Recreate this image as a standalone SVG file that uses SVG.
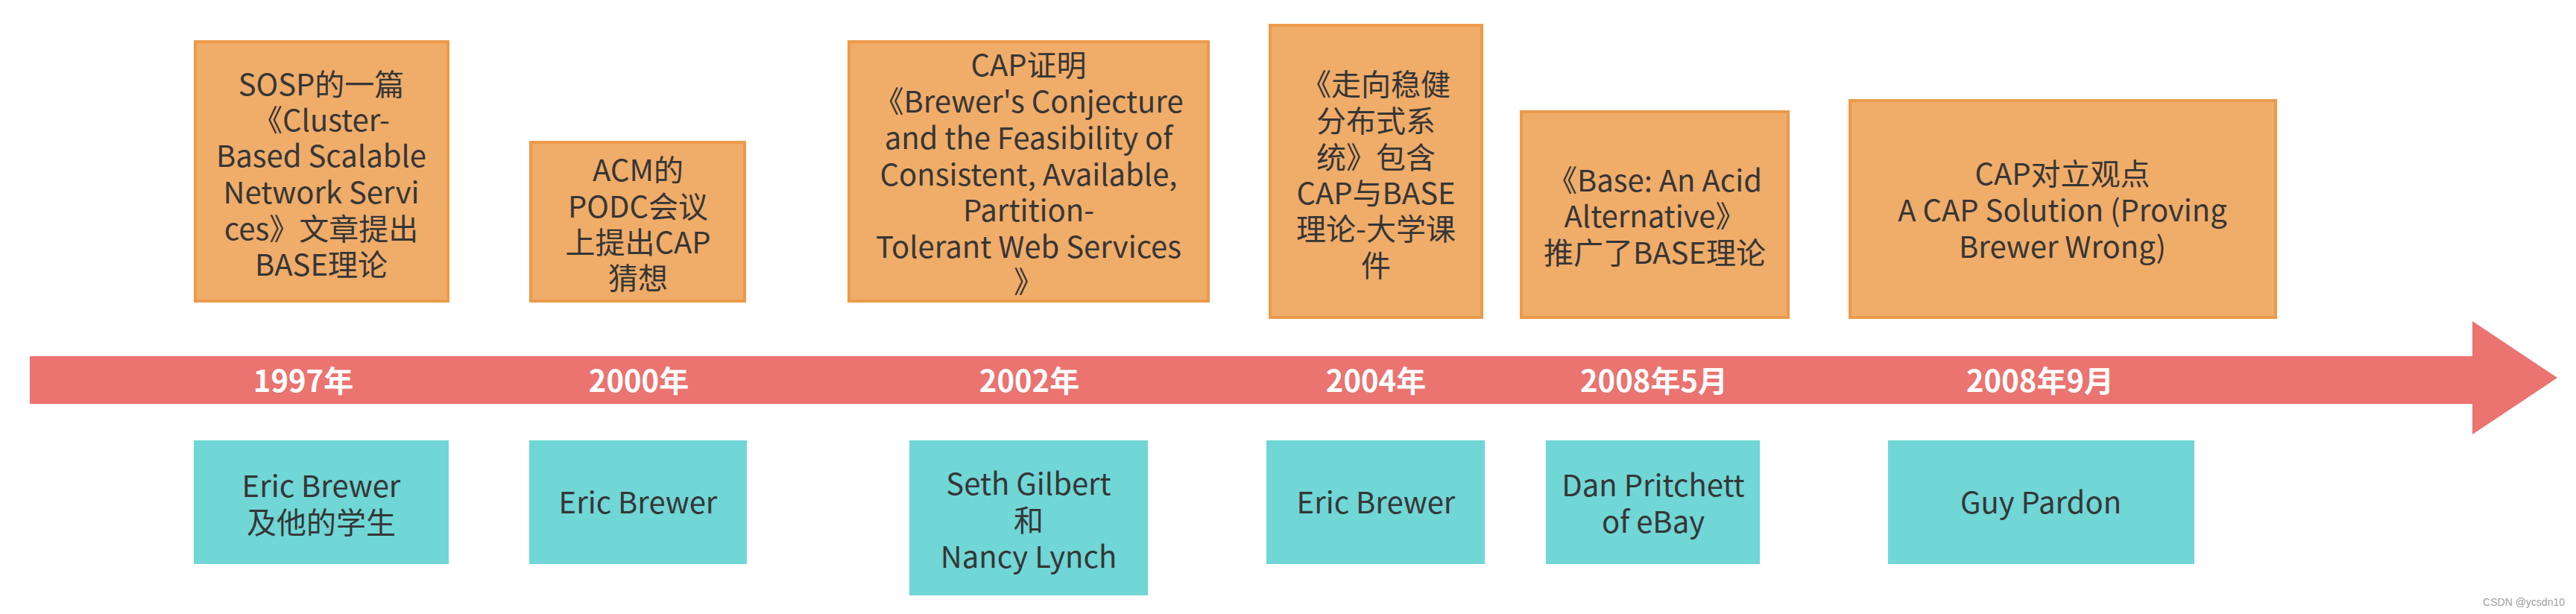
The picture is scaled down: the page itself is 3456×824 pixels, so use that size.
<svg xmlns="http://www.w3.org/2000/svg" width="3456" height="824" viewBox="0 0 3456 824">
<style>
.ev{fill:#F0AC69;stroke:#EC9A4B;stroke-width:4}
.who{fill:#70D6D6}
.t{font-family:"Noto Sans CJK SC","Noto Sans",sans-serif;font-size:40px;fill:#363636;text-anchor:middle}
.yr{font-family:"Noto Sans CJK SC","Noto Sans",sans-serif;font-size:40px;font-weight:700;fill:#FFFFFF;text-anchor:middle}
.wm{font-family:"Liberation Sans",Arial,sans-serif;font-size:14px;fill:#A0A0A0;text-anchor:end}
</style>
<rect width="3456" height="824" fill="#FFFFFF"/>
<g id="connectors">
<polygon id="timeline" points="40,478 3317,478 3317,431 3431,507 3317,583 3317,542 40,542" fill="#EB7370"/>
</g>
<g id="y1997"><text class="yr" x="407" y="526">1997年</text></g>
<g id="y2000"><text class="yr" x="857" y="526">2000年</text></g>
<g id="y2002"><text class="yr" x="1381" y="526">2002年</text></g>
<g id="y2004"><text class="yr" x="1846" y="526">2004年</text></g>
<g id="y2008a"><text class="yr" x="2219" y="526">2008年5月</text></g>
<g id="y2008b"><text class="yr" x="2737" y="526">2008年9月</text></g>

<g id="ev1">
<rect class="ev" x="262" y="56" width="339" height="348"/>
<text class="t"><tspan x="431" y="128">SOSP的一篇</tspan><tspan x="431" y="176">《Cluster-</tspan><tspan x="431" y="224">Based Scalable</tspan><tspan x="431" y="273">Network Servi</tspan><tspan x="431" y="322">ces》文章提出</tspan><tspan x="431" y="370">BASE理论</tspan></text>
</g>
<g id="ev2">
<rect class="ev" x="712" y="191" width="287" height="213"/>
<text class="t"><tspan x="856" y="243">ACM的</tspan><tspan x="856" y="292">PODC会议</tspan><tspan x="856" y="340">上提出CAP</tspan><tspan x="856" y="388">猜想</tspan></text>
</g>
<g id="ev3">
<rect class="ev" x="1139" y="56" width="482" height="348"/>
<text class="t"><tspan x="1380" y="102">CAP证明</tspan><tspan x="1380" y="151">《Brewer's Conjecture</tspan><tspan x="1380" y="200">and the Feasibility of</tspan><tspan x="1380" y="249">Consistent, Available,</tspan><tspan x="1380" y="297">Partition-</tspan><tspan x="1380" y="346">Tolerant Web Services</tspan><tspan x="1380" y="393">》</tspan></text>
</g>
<g id="ev4">
<rect class="ev" x="1704" y="34" width="284" height="392"/>
<text class="t"><tspan x="1846" y="128">《走向稳健</tspan><tspan x="1846" y="177">分布式系</tspan><tspan x="1846" y="226">统》包含</tspan><tspan x="1846" y="274">CAP与BASE</tspan><tspan x="1846" y="322">理论-大学课</tspan><tspan x="1846" y="371">件</tspan></text>
</g>
<g id="ev5">
<rect class="ev" x="2041" y="150" width="358" height="276"/>
<text class="t"><tspan x="2220" y="257">《Base: An Acid</tspan><tspan x="2220" y="305">Alternative》</tspan><tspan x="2220" y="354">推广了BASE理论</tspan></text>
</g>
<g id="ev6">
<rect class="ev" x="2482" y="135" width="571" height="291"/>
<text class="t"><tspan x="2767" y="248">CAP对立观点</tspan><tspan x="2767" y="297">A CAP Solution (Proving</tspan><tspan x="2767" y="346">Brewer Wrong)</tspan></text>
</g>

<g id="who1">
<rect class="who" x="260" y="591" width="342" height="166"/>
<text class="t"><tspan x="431" y="667">Eric Brewer</tspan><tspan x="431" y="716">及他的学生</tspan></text>
</g>
<g id="who2">
<rect class="who" x="710" y="591" width="292" height="166"/>
<text class="t" x="856" y="689">Eric Brewer</text>
</g>
<g id="who3">
<rect class="who" x="1220" y="591" width="320" height="208"/>
<text class="t"><tspan x="1380" y="664">Seth Gilbert</tspan><tspan x="1380" y="713">和</tspan><tspan x="1380" y="762">Nancy Lynch</tspan></text>
</g>
<g id="who4">
<rect class="who" x="1699" y="591" width="293" height="166"/>
<text class="t" x="1846" y="689">Eric Brewer</text>
</g>
<g id="who5">
<rect class="who" x="2074" y="591" width="287" height="166"/>
<text class="t"><tspan x="2218" y="666">Dan Pritchett</tspan><tspan x="2218" y="715">of eBay</tspan></text>
</g>
<g id="who6">
<rect class="who" x="2533" y="591" width="411" height="166"/>
<text class="t" x="2738" y="689">Guy Pardon</text>
</g>
<text class="wm" x="3441" y="813">CSDN @ycsdn10</text>
</svg>
